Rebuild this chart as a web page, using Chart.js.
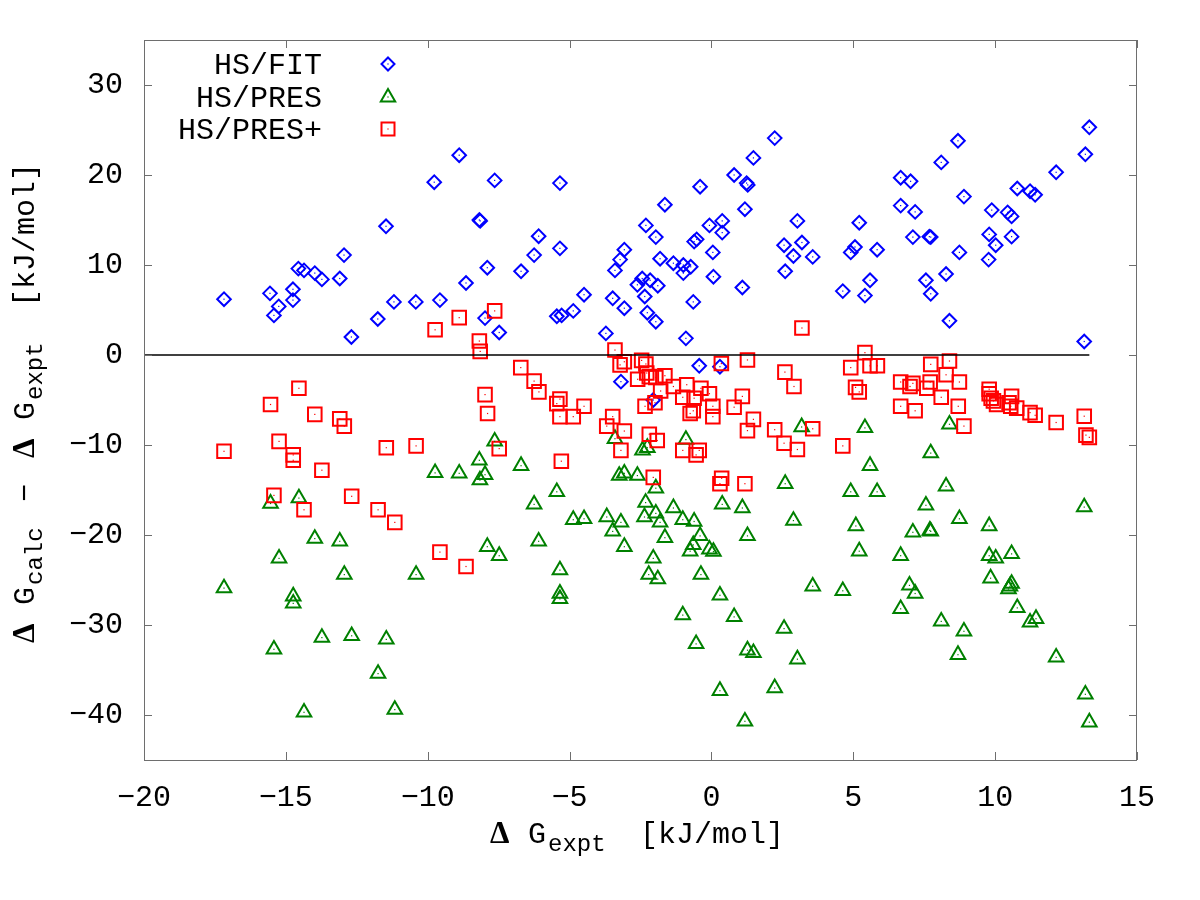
<!DOCTYPE html>
<html>
<head>
<meta charset="utf-8">
<script src="https://cdn.jsdelivr.net/npm/chart.js@4.4.1/dist/chart.umd.min.js"></script>
<style>
html, body { margin: 0; padding: 0; background: #fff; }
#wrap { width: 1200px; height: 900px; }
</style>
</head>
<body>
<div id="wrap"><canvas id="chart_dg" width="1200" height="900"></canvas></div>
<script>
/* dG scatter: calc - expt vs expt */

var seriesNames = ['HS/FIT', 'HS/PRES', 'HS/PRES+'];
var xTicks = [-20, -15, -10, -5, 0, 5, 10, 15];
var yTicks = [-40, -30, -20, -10, 0, 10, 20, 30];
var zeroLineX = [-20, 13.32];

var fitX = [-17.18,-15.56,-15.42,-15.25,-14.75,-14.75,-14.56,-14.36,-13.98,-13.73,
    -13.1,-12.95,-12.69,-11.76,-11.47,-11.19,-10.42,-9.77,-8.89,-7.64,
    -5.34,-8.18,-8.15,-6.09,-5.34,-6.25,-7.9,-6.71,-8.65,-9.57,
    -7.98,-7.48,-4.49,-4.87,-5.45,-5.28,-3.72,-3.48,-3.07,-3.4,
    -3.22,-3.07,-3.19,-2.31,-1.96,-1.64,-1.81,-1.34,-0.99,-0.73,
    -0.99,-2.44,-2.61,-2.16,-1.89,-2.35,-2.26,-1.96,-0.4,-0.07,
    -0.61,-0.52,0.05,0.07,-0.64,-0.9,-0.43,0.3,-2.05,2.23,
    1.48,0.8,1.24,1.28,1.18,0.38,0.38,1.09,3.03,2.56,
    3.19,2.89,3.57,2.6,5.21,5.06,4.91,5.84,5.59,4.63,
    5.41,6.67,7.02,8.1,8.69,6.67,7.18,8.9,9.88,7.1,
    7.68,7.73,9.79,10.02,8.74,9.77,8.27,7.56,7.73,8.39,
    13.32,13.18,12.15,10.78,11.23,11.41,10.44,10.58,10.58,13.14];
var fitY = [6.2,6.85,4.4,5.4,7.3,6.1,9.6,9.4,9.1,8.4,
    8.5,11.1,2.0,4.0,14.3,5.9,5.9,19.2,22.2,19.4,
    19.1,15.0,14.9,13.2,11.85,11.1,9.7,9.3,8.0,6.1,
    4.1,2.5,6.7,4.9,4.3,4.4,2.4,6.3,5.2,9.4,
    10.6,11.7,-2.96,14.4,13.1,16.7,10.7,10.2,10.0,9.8,
    9.1,8.5,7.8,8.3,7.7,6.5,4.7,3.7,18.7,14.4,
    12.6,12.85,11.4,8.7,5.9,1.85,-1.2,-1.3,-5.0,24.1,
    21.9,20.0,19.1,18.9,16.2,14.9,13.6,7.5,14.9,12.2,
    12.5,11.0,10.9,9.3,14.7,12.0,11.4,11.7,8.3,7.1,
    6.6,19.7,19.3,21.4,23.8,16.6,15.9,17.6,16.1,13.1,
    13.15,13.1,13.4,12.2,11.4,10.6,9.0,8.3,6.8,3.8,
    25.3,22.3,20.3,18.5,18.2,17.8,15.85,15.4,13.15,1.5];

var presX = [-17.18,-15.54,-15.42,-15.24,-14.74,-14.74,-14.54,-14.36,-13.98,-13.73,
    -13.1,-12.94,-12.68,-11.75,-11.46,-11.16,-10.41,-7.64,-8.18,-6.71,
    -9.74,-8.89,-7.98,-8.16,-5.45,-6.25,-4.87,-4.49,-3.69,-3.19,
    -3.48,-6.09,-3.07,-7.9,-7.48,-5.34,-5.34,-5.34,-3.4,-2.43,
    -2.26,-3.25,-3.07,-2.61,-1.96,-2.32,-1.96,-2.36,-1.81,-1.34,
    -1.01,-0.61,-1.64,-0.4,-0.64,-0.75,-0.07,0.07,-2.05,-2.21,
    -1.89,-0.37,-0.9,-1.01,-0.54,0.3,3.18,5.41,8.39,7.73,
    5.59,2.6,4.91,5.84,8.27,0.38,1.09,7.56,2.89,8.74,
    9.79,5.09,7.1,7.7,7.73,1.27,5.21,6.67,9.79,10.02,
    9.84,3.57,4.63,6.98,7.18,0.3,0.8,6.67,8.1,8.9,
    2.56,1.27,1.48,3.03,8.69,2.23,1.18,13.14,10.58,10.58,
    10.52,10.47,10.78,11.23,11.44,12.15,13.18,13.32];
var presY = [-25.9,-16.5,-32.7,-22.6,-26.8,-27.6,-15.9,-39.7,-20.4,-31.4,
    -20.7,-24.4,-31.2,-35.4,-31.6,-39.4,-24.4,-9.6,-11.7,-12.3,
    -13.1,-13.15,-13.3,-13.9,-15.2,-16.6,-18.3,-18.2,-18.0,-18.6,
    -19.6,-20.7,-21.3,-21.3,-22.3,-23.9,-26.5,-27.1,-9.3,-10.6,
    -10.3,-13.4,-13.15,-13.4,-14.8,-16.4,-17.6,-18.0,-18.6,-17.0,
    -18.3,-18.5,-20.3,-20.1,-21.1,-21.8,-21.6,-21.85,-22.6,-24.4,
    -24.9,-24.4,-9.4,-28.9,-32.1,-37.3,-8.0,-8.1,-7.7,-10.9,
    -12.3,-14.3,-15.2,-15.2,-14.6,-16.6,-17.0,-16.7,-18.4,-18.2,
    -19.0,-19.0,-19.7,-19.5,-19.6,-20.1,-21.8,-22.3,-22.3,-22.6,
    -24.8,-25.7,-26.2,-25.6,-26.5,-26.7,-29.1,-28.2,-29.6,-30.7,
    -30.4,-32.8,-33.1,-33.8,-33.3,-37.0,-40.7,-16.9,-22.1,-25.4,
    -25.7,-26.0,-28.1,-29.7,-29.3,-33.6,-37.7,-40.8];

var plusX = [-17.18,-15.54,-15.42,-15.24,-14.74,-14.74,-14.54,-14.36,-13.98,-13.73,
    -13.1,-12.94,-12.68,-11.75,-11.46,-11.16,-10.41,-9.74,-8.89,-7.64,
    -8.18,-8.15,-3.4,-6.72,-6.25,-6.08,-7.98,-7.89,-5.34,-5.45,
    -5.34,-4.87,-4.49,-3.48,-3.69,-3.07,-3.19,-7.48,-5.29,-9.57,
    -8.65,-3.22,-3.07,-2.46,-2.31,-2.6,-2.28,-2.19,-1.96,-1.64,
    -1.79,-1.34,-0.87,-1.01,-0.61,-0.37,-0.07,-0.75,-0.64,0.05,
    0.05,0.35,-2.34,-1.99,-2.19,-1.91,-1.01,-0.54,-0.43,-2.05,
    3.19,5.41,1.27,2.59,2.91,4.91,5.59,5.85,5.08,5.21,
    7.73,8.39,8.27,6.67,7.1,7.0,7.59,7.71,8.74,8.1,
    6.67,7.18,8.7,1.09,0.8,8.9,1.48,1.27,2.23,2.56,
    3.03,3.57,4.63,0.3,0.36,1.18,9.79,9.79,9.86,9.94,
    10.05,10.58,10.49,10.55,10.76,11.23,11.41,12.15,13.14,13.2,
    13.32];
var plusY = [-10.7,-5.5,-15.6,-9.6,-11.1,-11.7,-3.7,-17.2,-6.6,-12.8,
    -7.1,-7.9,-15.7,-17.2,-10.3,-18.6,-10.1,2.8,4.15,4.9,
    1.55,0.4,0.55,-1.4,-2.9,-4.1,-4.4,-6.5,-4.9,-5.4,
    -6.85,-6.85,-5.7,-6.85,-7.9,-8.45,-10.6,-10.4,-11.8,-21.9,
    -23.5,-1.1,-0.75,-0.6,-1.0,-2.7,-2.0,-2.4,-2.5,-2.3,
    -4.0,-3.5,-3.3,-4.7,-4.8,-3.7,-4.3,-6.5,-6.2,-5.7,
    -6.85,-0.95,-5.7,-5.3,-8.8,-9.5,-10.6,-11.1,-10.6,-13.6,
    3.0,0.26,-0.55,-1.9,-3.5,-1.4,-1.2,-1.2,-3.6,-4.1,
    -1.04,-0.67,-2.2,-3.0,-3.15,-3.5,-3.7,-3.0,-3.0,-4.7,
    -5.7,-6.2,-5.7,-4.6,-5.8,-7.9,-7.15,-8.4,-8.3,-9.8,
    -10.5,-8.2,-10.1,-14.3,-13.7,-14.3,-3.8,-4.3,-4.8,-5.1,
    -5.5,-4.6,-5.3,-5.7,-5.9,-6.4,-6.7,-7.5,-6.8,-8.9,
    -9.15];

var BLUE = '#0000ff', GREEN = '#008000', RED = '#ff0000', FRAME = '#6e6e6e';
var MONO = '"Liberation Mono", "DejaVu Sans Mono", monospace';
var DELTA = 'bold 31px "Liberation Serif", serif';

function zip(xs, ys) {
    var out = [];
    for (var i = 0; i < xs.length; i++) out.push({ x: xs[i], y: ys[i] });
    return out;
}

function fmt(v) {
    return v < 0 ? '\u2212' + Math.abs(v) : String(v);
}

// hollow gnuplot-ish markers for the key
function marker(ctx, style, x, y, color) {
    ctx.strokeStyle = color;
    ctx.lineWidth = 2;
    ctx.beginPath();
    if (style === 'rectRot') {
        ctx.moveTo(x, y - 6.5); ctx.lineTo(x + 6.5, y); ctx.lineTo(x, y + 6.5); ctx.lineTo(x - 6.5, y);
        ctx.closePath();
    } else if (style === 'triangle') {
        ctx.moveTo(x, y - 8); ctx.lineTo(x + 7.2, y + 4.5); ctx.lineTo(x - 7.2, y + 4.5);
        ctx.closePath();
    } else {
        ctx.rect(x - 6.5, y - 6.5, 13, 13);
    }
    ctx.stroke();
    ctx.fillStyle = color;
    ctx.fillRect(x - 0.6, y - 0.6, 1.2, 1.2);
}

// text pieces laid out along a line: {at, t, font, dy}
function drawParts(ctx, parts) {
    parts.forEach(function (p) {
        ctx.font = p.font;
        ctx.fillText(p.t, p.at, p.dy || 0);
    });
}

var M30 = '30px ' + MONO, S24 = '24px ' + MONO;

var xTitle = [
    { at: 0, t: '\u0394', font: DELTA },
    { at: 38, t: 'G', font: M30 },
    { at: 58, t: 'expt', font: S24, dy: 8 },
    { at: 150, t: '[kJ/mol]', font: M30 }
];
var yTitle = [
    { at: 0, t: '\u0394', font: DELTA },
    { at: 38, t: 'G', font: M30 },
    { at: 58, t: 'calc', font: S24, dy: 8 },
    { at: 141, t: '\u2212', font: M30 },
    { at: 185, t: '\u0394', font: DELTA },
    { at: 223, t: 'G', font: M30 },
    { at: 243, t: 'expt', font: S24, dy: 8 },
    { at: 336, t: '[kJ/mol]', font: M30 }
];

var gnuFrame = {
    id: 'gnuFrame',
    afterDatasetsDraw: function (chart) {
        var ctx = chart.ctx, a = chart.chartArea;
        var xs = chart.scales.x, ys = chart.scales.y;
        ctx.save();

        // little centre dot in every point
        chart.data.datasets.forEach(function (ds, i) {
            if (!ds.dot) return;
            ctx.fillStyle = ds.borderColor;
            chart.getDatasetMeta(i).data.forEach(function (p) {
                ctx.fillRect(p.x - 0.6, p.y - 0.6, 1.2, 1.2);
            });
        });

        // border + mirrored inward ticks
        ctx.strokeStyle = FRAME;
        ctx.lineWidth = 1;
        ctx.strokeRect(a.left + 0.5, a.top + 0.5, a.right - a.left - 1, a.bottom - a.top);
        ctx.beginPath();
        xTicks.forEach(function (v) {
            var px = Math.round(xs.getPixelForValue(v)) + 0.5;
            ctx.moveTo(px, a.bottom); ctx.lineTo(px, a.bottom - 8);
            ctx.moveTo(px, a.top); ctx.lineTo(px, a.top + 8);
        });
        yTicks.forEach(function (v) {
            var py = Math.round(ys.getPixelForValue(v)) + 0.5;
            ctx.moveTo(a.left, py); ctx.lineTo(a.left + 8, py);
            ctx.moveTo(a.right, py); ctx.lineTo(a.right - 8, py);
        });
        ctx.stroke();
        ctx.restore();
    },
    afterDraw: function (chart) {
        var ctx = chart.ctx;
        ctx.save();
        ctx.fillStyle = '#000';
        ctx.textBaseline = 'alphabetic';
        ctx.textAlign = 'left';

        // x title
        ctx.save();
        ctx.translate(490, 843);
        drawParts(ctx, xTitle);
        ctx.restore();

        // y title, rotated
        ctx.save();
        ctx.translate(34, 643);
        ctx.rotate(-Math.PI / 2);
        drawParts(ctx, yTitle);
        ctx.restore();

        // key, top left
        var styles = ['rectRot', 'triangle', 'rect'];
        var colors = [BLUE, GREEN, RED];
        var rows = [64, 97, 129];
        ctx.font = M30;
        ctx.textAlign = 'right';
        ctx.textBaseline = 'middle';
        for (var i = 0; i < seriesNames.length; i++) {
            ctx.fillStyle = '#000';
            ctx.fillText(seriesNames[i], 322, rows[i] + 2);
            marker(ctx, styles[i], 388, rows[i], colors[i]);
        }
        ctx.restore();
    }
};

var ctx = document.getElementById('chart_dg').getContext('2d');
var chart = new Chart(ctx, {
    type: 'scatter',
    data: {
        datasets: [
            {
                label: 'zero',
                data: zeroLineX.map(function (v) { return { x: v, y: 0 }; }),
                showLine: true,
                borderColor: '#000',
                borderWidth: 1.6,
                pointRadius: 0,
                order: 0
            },
            {
                label: seriesNames[2],
                data: zip(plusX, plusY),
                pointStyle: 'rect',
                pointRadius: 9.6,
                borderColor: RED,
                backgroundColor: 'rgba(0,0,0,0)',
                pointBorderWidth: 2,
                dot: true,
                order: 1
            },
            {
                label: seriesNames[1],
                data: zip(presX, presY),
                pointStyle: 'triangle',
                pointRadius: 8.4,
                borderColor: GREEN,
                backgroundColor: 'rgba(0,0,0,0)',
                pointBorderWidth: 2,
                dot: true,
                order: 2
            },
            {
                label: seriesNames[0],
                data: zip(fitX, fitY),
                pointStyle: 'rectRot',
                pointRadius: 6.8,
                borderColor: BLUE,
                backgroundColor: 'rgba(0,0,0,0)',
                pointBorderWidth: 2,
                dot: true,
                order: 3
            }
        ]
    },
    options: {
        responsive: false,
        animation: false,
        events: [],
        layout: { padding: { left: 0, top: 40, right: 63, bottom: 0 } },
        plugins: {
            legend: { display: false },
            tooltip: { enabled: false }
        },
        scales: {
            x: {
                type: 'linear',
                min: -20,
                max: 15,
                afterBuildTicks: function (s) { s.ticks = xTicks.map(function (v) { return { value: v }; }); },
                afterFit: function (s) { s.height = 140; },
                grid: { display: false, drawTicks: false },
                border: { display: false },
                ticks: {
                    padding: 20,
                    color: '#000',
                    font: { family: MONO, size: 30 },
                    maxRotation: 0,
                    autoSkip: false,
                    callback: function (v) { return fmt(v); }
                }
            },
            y: {
                type: 'linear',
                min: -45,
                max: 35,
                afterBuildTicks: function (s) { s.ticks = yTicks.map(function (v) { return { value: v }; }); },
                afterFit: function (s) { s.width = 144; },
                grid: { display: false, drawTicks: false },
                border: { display: false },
                ticks: {
                    padding: 21,
                    color: '#000',
                    font: { family: MONO, size: 30 },
                    autoSkip: false,
                    callback: function (v) { return fmt(v); }
                }
            }
        }
    },
    plugins: [gnuFrame]
});
</script>
</body>
</html>
